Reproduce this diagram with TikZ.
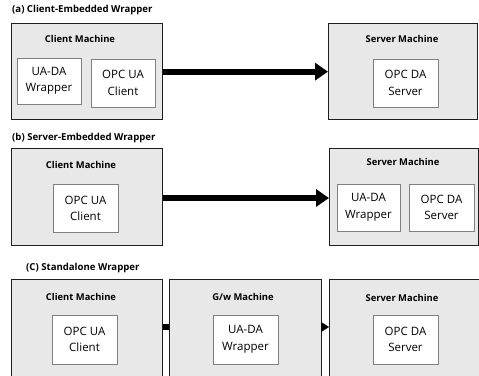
\documentclass[tikz,border=0pt]{standalone}
\usepackage{fontspec}
\setmainfont{Open Sans}
\usetikzlibrary{arrows.meta}
\definecolor{boxgray}{HTML}{E8E8E8}
\definecolor{outline}{HTML}{1E1E1E}
\definecolor{inline}{HTML}{808080}
\begin{document}
\begin{tikzpicture}[x=1pt,y=-1pt,
  machine/.style={draw=outline, line width=1.3pt, fill=boxgray, anchor=north west, inner sep=0pt},
  comp/.style={draw=inline, line width=0.8pt, fill=white, minimum width=65pt, minimum height=48pt,
    align=center, inner sep=0pt, font=\fontsize{11.5}{16.5}\selectfont},
  mlabel/.style={inner sep=0pt, font=\bfseries\fontsize{9.4}{11}\selectfont},
  title/.style={inner sep=0pt, anchor=west, font=\bfseries\fontsize{9.6}{11}\selectfont},
  bigarrow/.style={line width=6pt, -{Triangle[length=13pt,width=17pt]}},
  smallarrow/.style={line width=0.5pt, -{Triangle[length=8pt,width=10pt]}},
  thickline/.style={line width=6pt}
]
\clip (0,0) rectangle (479,375);
\fill[white] (0,0) rectangle (479,375);

% (a)
\node[title] (ta) at (12,10) {(a) Client-Embedded Wrapper};
\node[machine, minimum width=151pt, minimum height=96pt] (ca) at (11,23) {};
\node[machine, minimum width=149pt, minimum height=96pt] (sa) at (328,23) {};
\node[mlabel] (cal) at (80,39) {Client Machine};
\node[mlabel] (sal) at (402,39) {Server Machine};
\node[comp, minimum width=64pt, minimum height=46pt] (wa) at (49,81) {UA-DA\\Wrapper};
\node[comp, minimum width=64pt] (ua) at (123,83) {OPC UA\\Client};
\node[comp] (da) at (405.5,83) {OPC DA\\Server};
\draw[bigarrow] (ca.east) -- (sa.west);

% (b)
\node[title] (tb) at (12,138) {(b) Server-Embedded Wrapper};
\node[machine, minimum width=151pt, minimum height=97pt] (cb) at (11,148) {};
\node[machine, minimum width=149pt, minimum height=97pt] (sb) at (329,148) {};
\node[mlabel] (cbl) at (81,165) {Client Machine};
\node[mlabel] (sbl) at (403,162) {Server Machine};
\node[comp] (ub) at (85.5,208.5) {OPC UA\\Client};
\node[comp, minimum width=63pt, minimum height=47pt] (wb) at (368.5,207.5) {UA-DA\\Wrapper};
\node[comp, minimum width=65pt, minimum height=47pt] (db) at (441.5,207.5) {OPC DA\\Server};
\coordinate (yb) at (0,198);
\draw[bigarrow] (cb.east |- yb) -- (sb.west |- yb);

% (c)
\node[title] (tc) at (26,268) {(C) Standalone Wrapper};
\node[machine, minimum width=151pt, minimum height=120pt] (cc) at (11,279) {};
\node[machine, minimum width=152pt, minimum height=120pt] (gc) at (169,279) {};
\node[machine, minimum width=160pt, minimum height=120pt] (sc) at (329,279) {};
\node[mlabel] (ccl) at (81,297) {Client Machine};
\node[mlabel] (gcl) at (243,297) {G/w Machine};
\node[mlabel] (scl) at (402,298) {Server Machine};
\node[comp, minimum height=49pt] (uc) at (84.5,339.5) {OPC UA\\Client};
\node[comp, minimum height=49pt] (wc) at (245.5,339.5) {UA-DA\\Wrapper};
\node[comp, minimum height=49pt] (dc) at (405.5,339.5) {OPC DA\\Server};
\coordinate (yc) at (0,327);
\draw[thickline] (cc.east |- yc) -- (gc.west |- yc);
\draw[smallarrow] (gc.east |- yc) -- (sc.west |- yc);
\end{tikzpicture}
\end{document}
